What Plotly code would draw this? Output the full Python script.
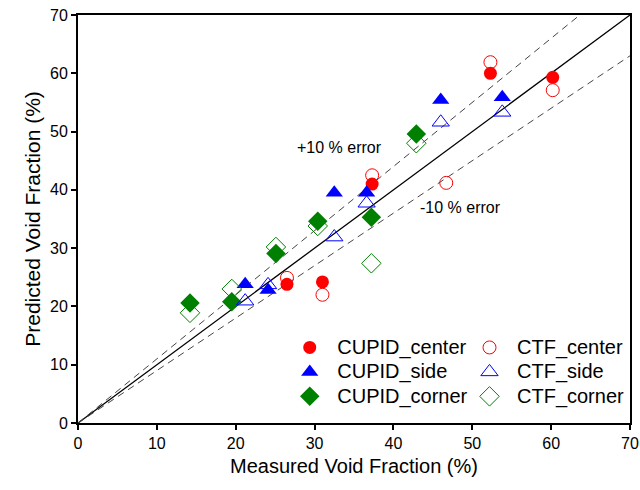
import plotly.graph_objects as go

# ---- data ----
cupid_center_x = [26.5, 31.0, 37.3, 52.3, 60.2]
cupid_center_y = [23.8, 24.2, 41.0, 60.0, 59.3]
ctf_center_x = [26.5, 31.0, 37.3, 46.7, 52.3, 60.2]
ctf_center_y = [24.9, 22.0, 42.5, 41.2, 61.9, 57.1]

cupid_side_x = [21.2, 24.1, 32.5, 36.6, 46.0, 53.8]
cupid_side_y = [23.8, 22.8, 39.5, 39.5, 55.4, 55.9]
ctf_side_x = [21.2, 24.1, 32.5, 36.6, 46.0, 53.8]
ctf_side_y = [20.9, 23.7, 31.9, 37.7, 51.6, 53.3]

cupid_corner_x = [14.2, 19.5, 25.1, 30.4, 37.2, 42.9]
cupid_corner_y = [20.6, 20.8, 29.1, 34.6, 35.3, 49.6]
ctf_corner_x = [14.2, 19.5, 25.1, 30.4, 37.2, 42.9]
ctf_corner_y = [18.9, 23.0, 30.2, 33.8, 27.4, 48.0]

line_x = [0, 70]
ideal_y = [0, 70]
plus10_x = [0, 70 / 1.1]
plus10_y = [0, 70]
minus10_x = [0, 70]
minus10_y = [0, 63]

ticks = [0, 10, 20, 30, 40, 50, 60, 70]

FONT = "Arial, Liberation Sans, sans-serif"


def big(name):
    return '<span style="font-size:20px">' + name + '</span>'


fig = go.Figure()

# reference lines
fig.add_trace(go.Scatter(x=line_x, y=ideal_y, mode="lines",
                         line=dict(color="black", width=1.3), showlegend=False, hoverinfo="skip"))
fig.add_trace(go.Scatter(x=plus10_x, y=plus10_y, mode="lines",
                         line=dict(color="#444444", width=1, dash="7px,5px"), showlegend=False, hoverinfo="skip"))
fig.add_trace(go.Scatter(x=minus10_x, y=minus10_y, mode="lines",
                         line=dict(color="#444444", width=1, dash="7px,5px"), showlegend=False, hoverinfo="skip"))

RED = "#ff0000"
BLUE = "#0000ff"
GREEN = "#008000"

fig.add_trace(go.Scatter(x=cupid_center_x, y=cupid_center_y, mode="markers", name=big("CUPID_center"),
                         marker=dict(symbol="circle", size=13, color=RED, line=dict(width=0)), legend="legend"))
fig.add_trace(go.Scatter(x=cupid_side_x, y=cupid_side_y, mode="markers", name=big("CUPID_side"),
                         marker=dict(symbol="triangle-up", size=15, color=BLUE, line=dict(width=0)), legend="legend"))
fig.add_trace(go.Scatter(x=cupid_corner_x, y=cupid_corner_y, mode="markers", name=big("CUPID_corner"),
                         marker=dict(symbol="diamond", size=15, color=GREEN, line=dict(width=0)), legend="legend"))

fig.add_trace(go.Scatter(x=ctf_center_x, y=ctf_center_y, mode="markers", name=big("CTF_center"),
                         marker=dict(symbol="circle-open", size=13, color=RED, line=dict(width=1)), legend="legend2"))
fig.add_trace(go.Scatter(x=ctf_side_x, y=ctf_side_y, mode="markers", name=big("CTF_side"),
                         marker=dict(symbol="triangle-up-open", size=15, color=BLUE, line=dict(width=1)), legend="legend2"))
fig.add_trace(go.Scatter(x=ctf_corner_x, y=ctf_corner_y, mode="markers", name=big("CTF_corner"),
                         marker=dict(symbol="diamond-open", size=15, color=GREEN, line=dict(width=1)), legend="legend2"))

axis_common = dict(
    range=[0, 70], tickvals=ticks, ticks="outside", ticklen=5, tickwidth=2, tickcolor="black",
    showline=True, linewidth=2, linecolor="black", mirror=True, showgrid=False, zeroline=False,
    tickfont=dict(family=FONT, size=16, color="black"), automargin=False, ticklabeloverflow="allow",
)

fig.update_layout(
    width=640, height=490,
    margin=dict(l=78, r=10, t=15, b=67),
    paper_bgcolor="white", plot_bgcolor="white",
    font=dict(family=FONT, color="black"),
    xaxis=dict(**axis_common,
               title=dict(text="Measured Void Fraction (%)", font=dict(family=FONT, size=20), standoff=8)),
    yaxis=dict(**axis_common,
               title=dict(text="Predicted Void Fraction (%)", font=dict(family=FONT, size=21), standoff=4)),
    legend=dict(x=0.37, y=0.2274, xanchor="left", yanchor="top", bgcolor="rgba(0,0,0,0)",
                font=dict(family=FONT, size=16.5), itemwidth=45, tracegroupgap=0),
    legend2=dict(x=1.0, y=0.2274, xanchor="right", yanchor="top", bgcolor="rgba(0,0,0,0)",
                 font=dict(family=FONT, size=16.5), itemwidth=45, tracegroupgap=0),
    annotations=[
        dict(x=33.2, y=47.2, text="+10 % error", showarrow=False,
             font=dict(family=FONT, size=16, color="black")),
        dict(x=48.5, y=37.0, text="-10 % error", showarrow=False,
             font=dict(family=FONT, size=16, color="black")),
    ],
)

fig.write_html("out.html")
